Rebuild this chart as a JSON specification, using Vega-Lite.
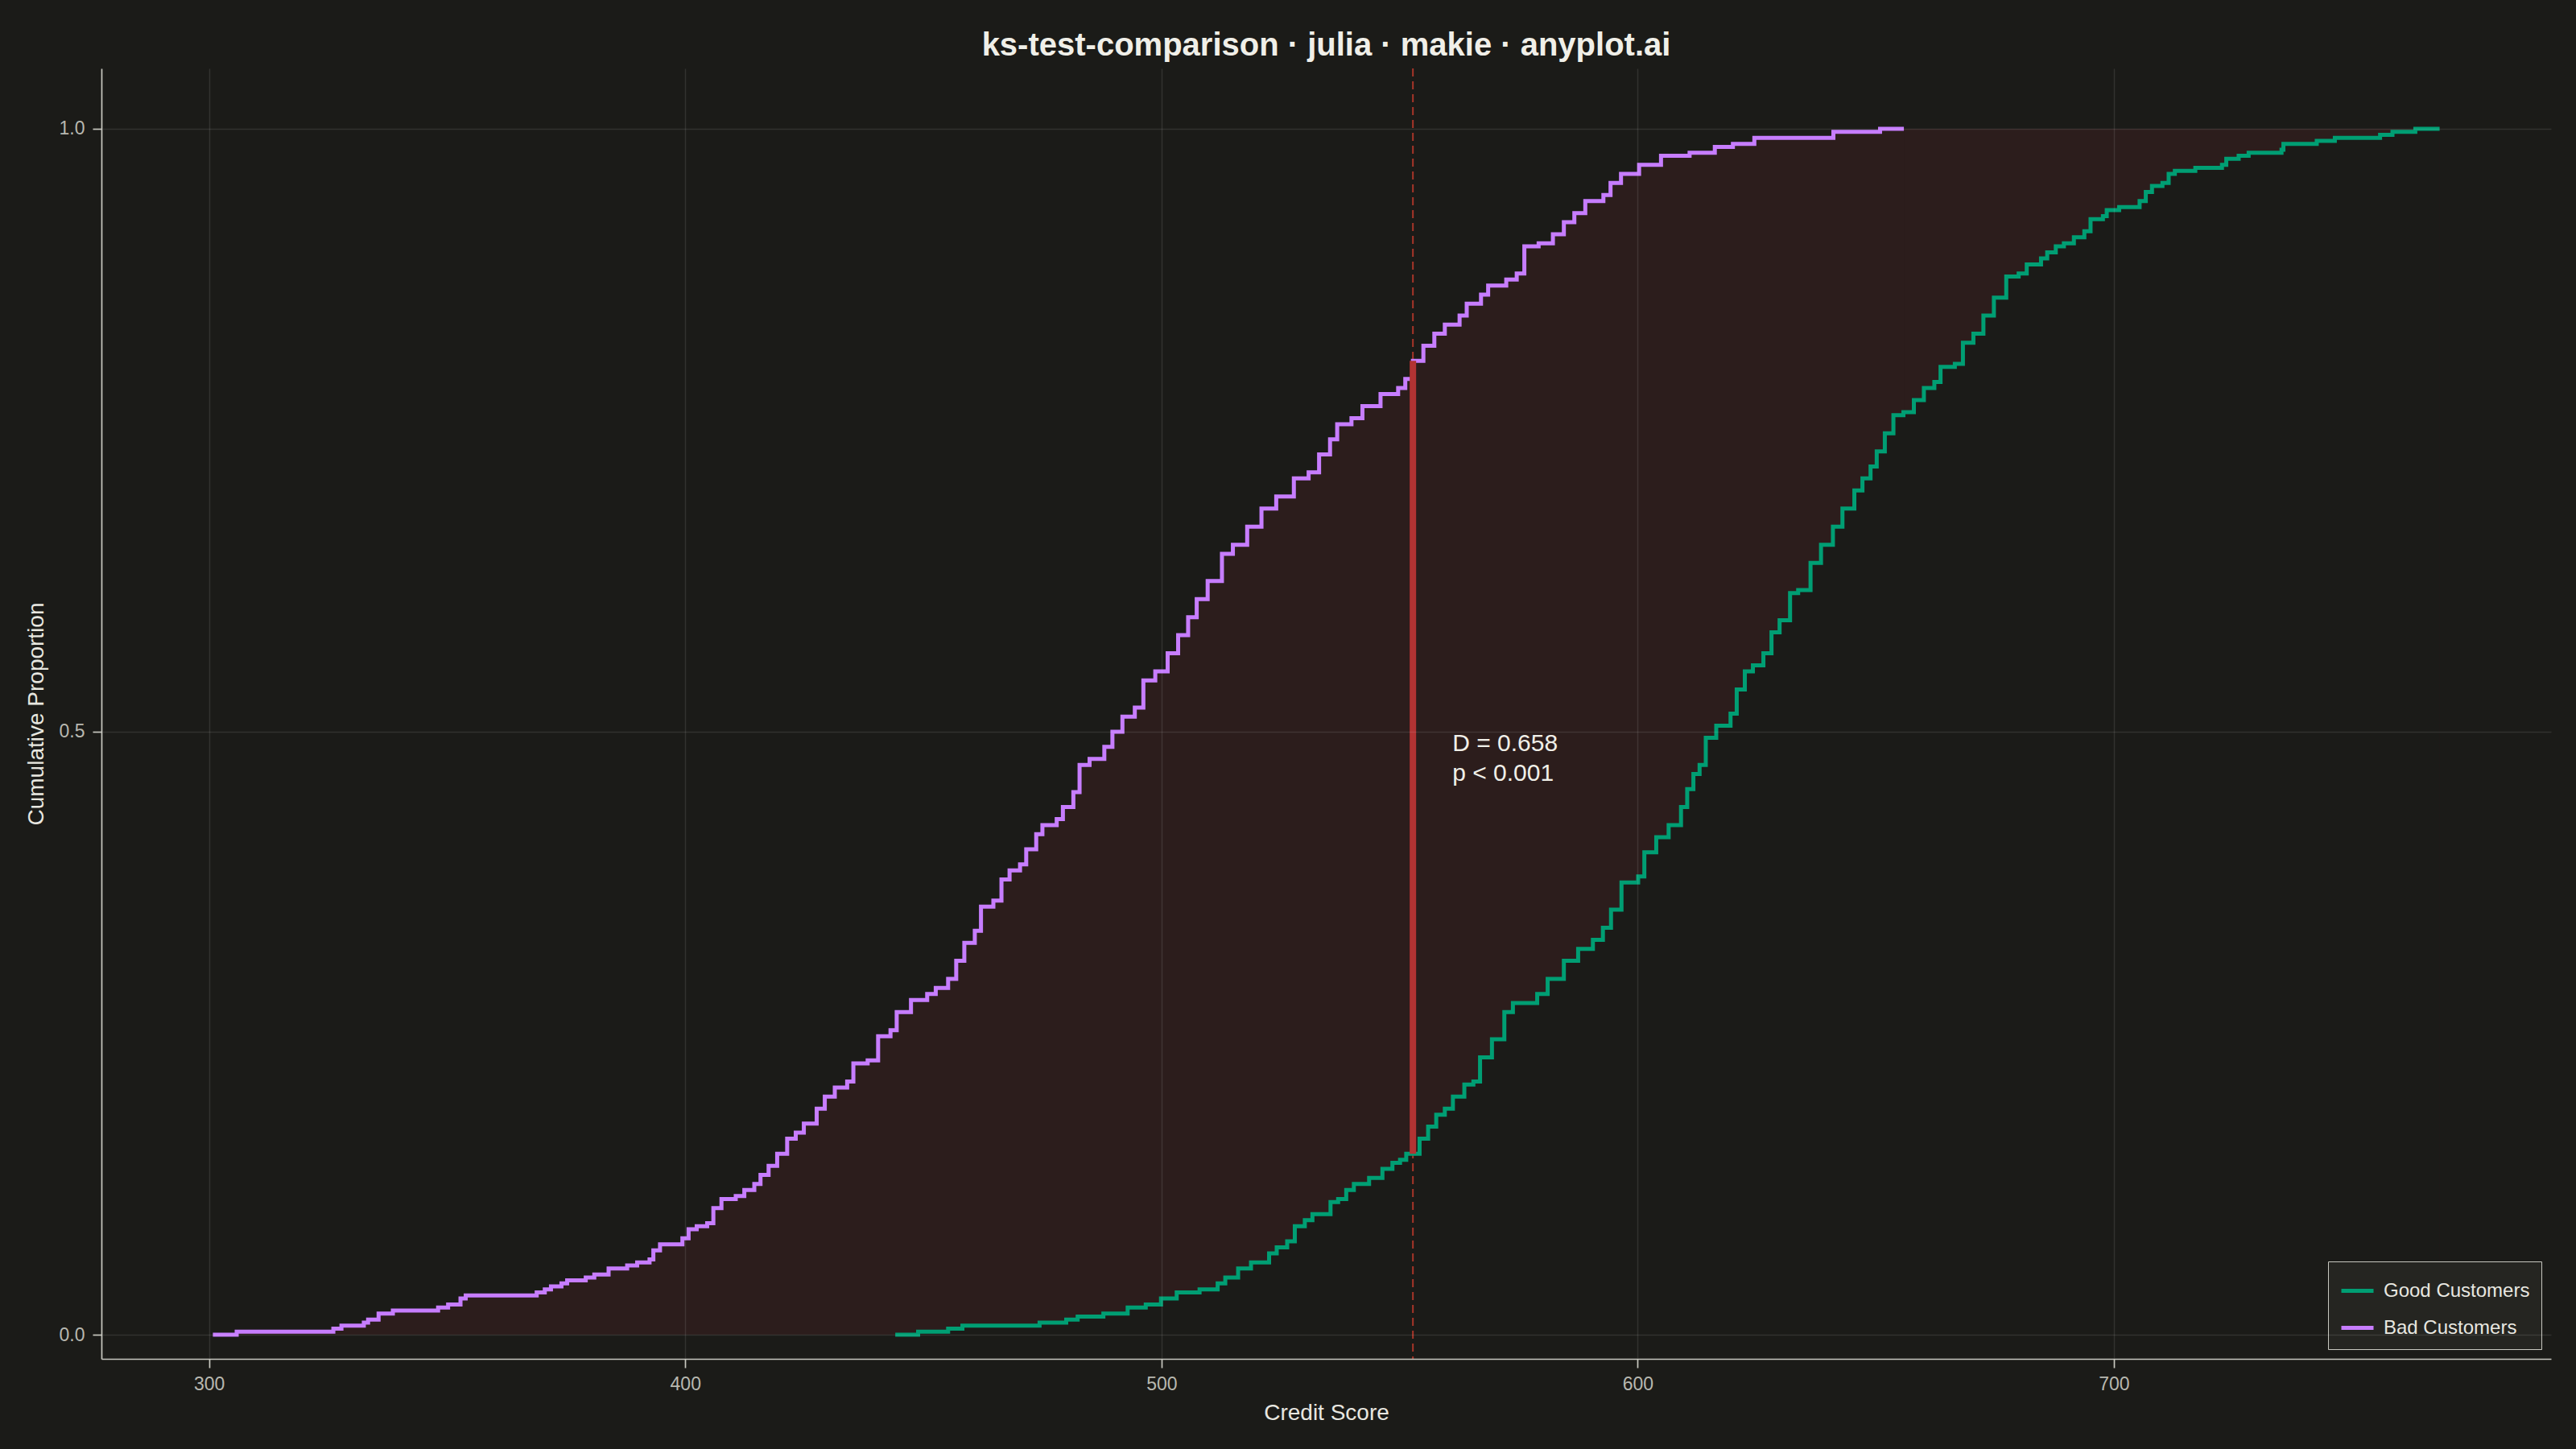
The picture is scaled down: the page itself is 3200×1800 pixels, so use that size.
{
  "$schema": "https://vega.github.io/schema/vega-lite/v6.json",
  "autosize": {"type": "none"},
  "padding": {"left": 126, "top": 85, "right": 31, "bottom": 112},
  "width": 3043,
  "height": 1603,
  "background": "#1b1b18",
  "config": {
    "view": {"stroke": null, "fill": "#1b1b18"},
    "font": "Liberation Sans",
    "axis": {
      "domainColor": "#c8c8c0",
      "domainWidth": 1.7,
      "tickColor": "#c8c8c0",
      "tickWidth": 1.7,
      "tickSize": 11,
      "labelFont": "Liberation Sans",
      "labelFontSize": 23,
      "labelColor": "#b8b8b0",
      "titleFont": "Liberation Sans",
      "titleFontSize": 28,
      "titleFontWeight": "normal",
      "titleColor": "#e8e7e0",
      "gridColor": "#ffffff",
      "gridOpacity": 0.1,
      "gridWidth": 1.5
    },
    "axisX": {"labelPadding": 9, "titlePadding": 10},
    "axisY": {"labelPadding": 10, "titlePadding": 14}
  },
  "title": {
    "text": "ks-test-comparison · julia · makie · anyplot.ai",
    "font": "Liberation Sans",
    "fontSize": 40,
    "fontWeight": "bold",
    "color": "#f0efe8",
    "anchor": "middle",
    "offset": 7
  },
  "datasets": {
    "ecdf": [
      {"group": "Bad Customers", "score": 300.8, "p": 0},
      {"group": "Bad Customers", "score": 305.8, "p": 0.0025},
      {"group": "Bad Customers", "score": 326.1, "p": 0.005},
      {"group": "Bad Customers", "score": 327.8, "p": 0.0075},
      {"group": "Bad Customers", "score": 332.5, "p": 0.01},
      {"group": "Bad Customers", "score": 333.4, "p": 0.0125},
      {"group": "Bad Customers", "score": 335.6, "p": 0.0175},
      {"group": "Bad Customers", "score": 338.6, "p": 0.02},
      {"group": "Bad Customers", "score": 348.1, "p": 0.0225},
      {"group": "Bad Customers", "score": 350.2, "p": 0.025},
      {"group": "Bad Customers", "score": 352.8, "p": 0.03},
      {"group": "Bad Customers", "score": 353.9, "p": 0.0325},
      {"group": "Bad Customers", "score": 368.8, "p": 0.035},
      {"group": "Bad Customers", "score": 370.5, "p": 0.0375},
      {"group": "Bad Customers", "score": 371.8, "p": 0.04},
      {"group": "Bad Customers", "score": 374.0, "p": 0.0425},
      {"group": "Bad Customers", "score": 375.2, "p": 0.045},
      {"group": "Bad Customers", "score": 379.1, "p": 0.0475},
      {"group": "Bad Customers", "score": 380.9, "p": 0.05},
      {"group": "Bad Customers", "score": 383.9, "p": 0.055},
      {"group": "Bad Customers", "score": 387.8, "p": 0.0575},
      {"group": "Bad Customers", "score": 389.9, "p": 0.06},
      {"group": "Bad Customers", "score": 392.5, "p": 0.0625},
      {"group": "Bad Customers", "score": 393.3, "p": 0.07},
      {"group": "Bad Customers", "score": 394.7, "p": 0.075},
      {"group": "Bad Customers", "score": 399.4, "p": 0.08},
      {"group": "Bad Customers", "score": 400.7, "p": 0.0875},
      {"group": "Bad Customers", "score": 402.4, "p": 0.09},
      {"group": "Bad Customers", "score": 404.6, "p": 0.0925},
      {"group": "Bad Customers", "score": 405.9, "p": 0.105},
      {"group": "Bad Customers", "score": 407.6, "p": 0.1125},
      {"group": "Bad Customers", "score": 410.6, "p": 0.115},
      {"group": "Bad Customers", "score": 412.4, "p": 0.12},
      {"group": "Bad Customers", "score": 414.5, "p": 0.125},
      {"group": "Bad Customers", "score": 415.8, "p": 0.1325},
      {"group": "Bad Customers", "score": 417.5, "p": 0.14},
      {"group": "Bad Customers", "score": 419.3, "p": 0.15},
      {"group": "Bad Customers", "score": 421.4, "p": 0.1625},
      {"group": "Bad Customers", "score": 423.2, "p": 0.1675},
      {"group": "Bad Customers", "score": 424.9, "p": 0.175},
      {"group": "Bad Customers", "score": 427.6, "p": 0.1875},
      {"group": "Bad Customers", "score": 429.3, "p": 0.1975},
      {"group": "Bad Customers", "score": 431.4, "p": 0.205},
      {"group": "Bad Customers", "score": 434.0, "p": 0.21},
      {"group": "Bad Customers", "score": 435.3, "p": 0.225},
      {"group": "Bad Customers", "score": 438.3, "p": 0.2275},
      {"group": "Bad Customers", "score": 440.5, "p": 0.2475},
      {"group": "Bad Customers", "score": 443.1, "p": 0.2525},
      {"group": "Bad Customers", "score": 444.4, "p": 0.2675},
      {"group": "Bad Customers", "score": 447.4, "p": 0.2775},
      {"group": "Bad Customers", "score": 450.8, "p": 0.2825},
      {"group": "Bad Customers", "score": 452.6, "p": 0.2875},
      {"group": "Bad Customers", "score": 455.2, "p": 0.295},
      {"group": "Bad Customers", "score": 456.9, "p": 0.31},
      {"group": "Bad Customers", "score": 458.6, "p": 0.325},
      {"group": "Bad Customers", "score": 460.8, "p": 0.335},
      {"group": "Bad Customers", "score": 462.1, "p": 0.355},
      {"group": "Bad Customers", "score": 464.7, "p": 0.36},
      {"group": "Bad Customers", "score": 466.4, "p": 0.3775},
      {"group": "Bad Customers", "score": 468.1, "p": 0.385},
      {"group": "Bad Customers", "score": 470.3, "p": 0.39},
      {"group": "Bad Customers", "score": 471.6, "p": 0.4025},
      {"group": "Bad Customers", "score": 473.7, "p": 0.415},
      {"group": "Bad Customers", "score": 475.0, "p": 0.4225},
      {"group": "Bad Customers", "score": 478.0, "p": 0.4275},
      {"group": "Bad Customers", "score": 479.3, "p": 0.4375},
      {"group": "Bad Customers", "score": 481.5, "p": 0.45},
      {"group": "Bad Customers", "score": 482.8, "p": 0.4725},
      {"group": "Bad Customers", "score": 484.9, "p": 0.4775},
      {"group": "Bad Customers", "score": 488.0, "p": 0.4875},
      {"group": "Bad Customers", "score": 489.7, "p": 0.5},
      {"group": "Bad Customers", "score": 491.8, "p": 0.5125},
      {"group": "Bad Customers", "score": 494.4, "p": 0.52},
      {"group": "Bad Customers", "score": 496.2, "p": 0.5425},
      {"group": "Bad Customers", "score": 498.7, "p": 0.55},
      {"group": "Bad Customers", "score": 501.3, "p": 0.565},
      {"group": "Bad Customers", "score": 503.5, "p": 0.58},
      {"group": "Bad Customers", "score": 505.6, "p": 0.595},
      {"group": "Bad Customers", "score": 507.4, "p": 0.61},
      {"group": "Bad Customers", "score": 509.7, "p": 0.625},
      {"group": "Bad Customers", "score": 512.7, "p": 0.6475},
      {"group": "Bad Customers", "score": 515.0, "p": 0.655},
      {"group": "Bad Customers", "score": 518.0, "p": 0.67},
      {"group": "Bad Customers", "score": 521.0, "p": 0.685},
      {"group": "Bad Customers", "score": 524.1, "p": 0.695},
      {"group": "Bad Customers", "score": 527.8, "p": 0.71},
      {"group": "Bad Customers", "score": 530.9, "p": 0.715},
      {"group": "Bad Customers", "score": 533.1, "p": 0.73},
      {"group": "Bad Customers", "score": 535.4, "p": 0.7425},
      {"group": "Bad Customers", "score": 536.9, "p": 0.755},
      {"group": "Bad Customers", "score": 539.9, "p": 0.76},
      {"group": "Bad Customers", "score": 542.2, "p": 0.77},
      {"group": "Bad Customers", "score": 546.0, "p": 0.78},
      {"group": "Bad Customers", "score": 549.7, "p": 0.785},
      {"group": "Bad Customers", "score": 551.2, "p": 0.7925},
      {"group": "Bad Customers", "score": 552.8, "p": 0.8075},
      {"group": "Bad Customers", "score": 555.0, "p": 0.82},
      {"group": "Bad Customers", "score": 557.3, "p": 0.83},
      {"group": "Bad Customers", "score": 559.5, "p": 0.8375},
      {"group": "Bad Customers", "score": 562.6, "p": 0.845},
      {"group": "Bad Customers", "score": 564.1, "p": 0.855},
      {"group": "Bad Customers", "score": 567.1, "p": 0.8625},
      {"group": "Bad Customers", "score": 568.6, "p": 0.87},
      {"group": "Bad Customers", "score": 572.4, "p": 0.875},
      {"group": "Bad Customers", "score": 574.6, "p": 0.88},
      {"group": "Bad Customers", "score": 576.2, "p": 0.9025},
      {"group": "Bad Customers", "score": 579.2, "p": 0.905},
      {"group": "Bad Customers", "score": 582.2, "p": 0.9125},
      {"group": "Bad Customers", "score": 584.5, "p": 0.9225},
      {"group": "Bad Customers", "score": 586.7, "p": 0.93},
      {"group": "Bad Customers", "score": 589.0, "p": 0.94},
      {"group": "Bad Customers", "score": 592.8, "p": 0.945},
      {"group": "Bad Customers", "score": 594.3, "p": 0.955},
      {"group": "Bad Customers", "score": 596.5, "p": 0.9625},
      {"group": "Bad Customers", "score": 600.3, "p": 0.97},
      {"group": "Bad Customers", "score": 604.9, "p": 0.9775},
      {"group": "Bad Customers", "score": 610.9, "p": 0.98},
      {"group": "Bad Customers", "score": 616.2, "p": 0.985},
      {"group": "Bad Customers", "score": 620.0, "p": 0.9875},
      {"group": "Bad Customers", "score": 624.5, "p": 0.9925},
      {"group": "Bad Customers", "score": 641.1, "p": 0.9975},
      {"group": "Bad Customers", "score": 650.9, "p": 1.0},
      {"group": "Bad Customers", "score": 655.9, "p": 1.0},
      {"group": "Good Customers", "score": 444.1, "p": 0},
      {"group": "Good Customers", "score": 448.9, "p": 0.0025},
      {"group": "Good Customers", "score": 455.2, "p": 0.005},
      {"group": "Good Customers", "score": 458.2, "p": 0.0075},
      {"group": "Good Customers", "score": 474.4, "p": 0.01},
      {"group": "Good Customers", "score": 480.0, "p": 0.0125},
      {"group": "Good Customers", "score": 482.4, "p": 0.015},
      {"group": "Good Customers", "score": 487.8, "p": 0.0175},
      {"group": "Good Customers", "score": 492.9, "p": 0.0225},
      {"group": "Good Customers", "score": 496.7, "p": 0.025},
      {"group": "Good Customers", "score": 499.9, "p": 0.03},
      {"group": "Good Customers", "score": 503.2, "p": 0.035},
      {"group": "Good Customers", "score": 508.0, "p": 0.0375},
      {"group": "Good Customers", "score": 511.8, "p": 0.0425},
      {"group": "Good Customers", "score": 513.4, "p": 0.0475},
      {"group": "Good Customers", "score": 516.1, "p": 0.055},
      {"group": "Good Customers", "score": 518.8, "p": 0.06},
      {"group": "Good Customers", "score": 522.6, "p": 0.0675},
      {"group": "Good Customers", "score": 524.2, "p": 0.0725},
      {"group": "Good Customers", "score": 526.4, "p": 0.0775},
      {"group": "Good Customers", "score": 528.0, "p": 0.09},
      {"group": "Good Customers", "score": 530.1, "p": 0.095},
      {"group": "Good Customers", "score": 531.7, "p": 0.1},
      {"group": "Good Customers", "score": 535.5, "p": 0.11},
      {"group": "Good Customers", "score": 537.1, "p": 0.1125},
      {"group": "Good Customers", "score": 538.8, "p": 0.12},
      {"group": "Good Customers", "score": 540.4, "p": 0.125},
      {"group": "Good Customers", "score": 543.6, "p": 0.13},
      {"group": "Good Customers", "score": 546.4, "p": 0.1375},
      {"group": "Good Customers", "score": 548.5, "p": 0.1425},
      {"group": "Good Customers", "score": 550.1, "p": 0.145},
      {"group": "Good Customers", "score": 551.4, "p": 0.15},
      {"group": "Good Customers", "score": 554.2, "p": 0.1625},
      {"group": "Good Customers", "score": 556.0, "p": 0.1725},
      {"group": "Good Customers", "score": 557.7, "p": 0.1825},
      {"group": "Good Customers", "score": 559.5, "p": 0.1875},
      {"group": "Good Customers", "score": 561.2, "p": 0.1975},
      {"group": "Good Customers", "score": 563.6, "p": 0.2075},
      {"group": "Good Customers", "score": 565.5, "p": 0.21},
      {"group": "Good Customers", "score": 566.9, "p": 0.23},
      {"group": "Good Customers", "score": 569.4, "p": 0.245},
      {"group": "Good Customers", "score": 572.0, "p": 0.2675},
      {"group": "Good Customers", "score": 573.8, "p": 0.275},
      {"group": "Good Customers", "score": 578.9, "p": 0.2825},
      {"group": "Good Customers", "score": 581.1, "p": 0.295},
      {"group": "Good Customers", "score": 584.5, "p": 0.31},
      {"group": "Good Customers", "score": 587.5, "p": 0.32},
      {"group": "Good Customers", "score": 590.6, "p": 0.3275},
      {"group": "Good Customers", "score": 592.7, "p": 0.3375},
      {"group": "Good Customers", "score": 594.4, "p": 0.3525},
      {"group": "Good Customers", "score": 596.6, "p": 0.375},
      {"group": "Good Customers", "score": 600.1, "p": 0.38},
      {"group": "Good Customers", "score": 601.4, "p": 0.4},
      {"group": "Good Customers", "score": 603.9, "p": 0.4125},
      {"group": "Good Customers", "score": 606.5, "p": 0.4225},
      {"group": "Good Customers", "score": 609.1, "p": 0.4375},
      {"group": "Good Customers", "score": 610.4, "p": 0.4525},
      {"group": "Good Customers", "score": 611.7, "p": 0.465},
      {"group": "Good Customers", "score": 613.0, "p": 0.4725},
      {"group": "Good Customers", "score": 614.3, "p": 0.495},
      {"group": "Good Customers", "score": 616.5, "p": 0.505},
      {"group": "Good Customers", "score": 619.5, "p": 0.515},
      {"group": "Good Customers", "score": 620.8, "p": 0.535},
      {"group": "Good Customers", "score": 622.5, "p": 0.55},
      {"group": "Good Customers", "score": 624.2, "p": 0.555},
      {"group": "Good Customers", "score": 626.4, "p": 0.565},
      {"group": "Good Customers", "score": 628.1, "p": 0.5825},
      {"group": "Good Customers", "score": 629.8, "p": 0.5925},
      {"group": "Good Customers", "score": 632.0, "p": 0.615},
      {"group": "Good Customers", "score": 633.7, "p": 0.6175},
      {"group": "Good Customers", "score": 636.3, "p": 0.64},
      {"group": "Good Customers", "score": 638.5, "p": 0.655},
      {"group": "Good Customers", "score": 641.0, "p": 0.67},
      {"group": "Good Customers", "score": 643.0, "p": 0.685},
      {"group": "Good Customers", "score": 645.5, "p": 0.7},
      {"group": "Good Customers", "score": 647.2, "p": 0.71},
      {"group": "Good Customers", "score": 648.9, "p": 0.72},
      {"group": "Good Customers", "score": 650.2, "p": 0.7325},
      {"group": "Good Customers", "score": 651.9, "p": 0.7475},
      {"group": "Good Customers", "score": 653.7, "p": 0.7625},
      {"group": "Good Customers", "score": 655.8, "p": 0.765},
      {"group": "Good Customers", "score": 658.0, "p": 0.775},
      {"group": "Good Customers", "score": 660.1, "p": 0.785},
      {"group": "Good Customers", "score": 662.3, "p": 0.79},
      {"group": "Good Customers", "score": 663.6, "p": 0.8025},
      {"group": "Good Customers", "score": 666.6, "p": 0.805},
      {"group": "Good Customers", "score": 668.3, "p": 0.8225},
      {"group": "Good Customers", "score": 670.5, "p": 0.83},
      {"group": "Good Customers", "score": 672.6, "p": 0.845},
      {"group": "Good Customers", "score": 674.8, "p": 0.86},
      {"group": "Good Customers", "score": 677.4, "p": 0.8775},
      {"group": "Good Customers", "score": 680.0, "p": 0.88},
      {"group": "Good Customers", "score": 681.7, "p": 0.8875},
      {"group": "Good Customers", "score": 684.7, "p": 0.8925},
      {"group": "Good Customers", "score": 686.0, "p": 0.8975},
      {"group": "Good Customers", "score": 687.8, "p": 0.9025},
      {"group": "Good Customers", "score": 689.5, "p": 0.905},
      {"group": "Good Customers", "score": 691.6, "p": 0.91},
      {"group": "Good Customers", "score": 693.8, "p": 0.915},
      {"group": "Good Customers", "score": 695.1, "p": 0.925},
      {"group": "Good Customers", "score": 697.7, "p": 0.9275},
      {"group": "Good Customers", "score": 698.5, "p": 0.9325},
      {"group": "Good Customers", "score": 701.1, "p": 0.935},
      {"group": "Good Customers", "score": 705.4, "p": 0.94},
      {"group": "Good Customers", "score": 706.7, "p": 0.9475},
      {"group": "Good Customers", "score": 708.0, "p": 0.9525},
      {"group": "Good Customers", "score": 710.2, "p": 0.955},
      {"group": "Good Customers", "score": 711.5, "p": 0.9625},
      {"group": "Good Customers", "score": 712.8, "p": 0.965},
      {"group": "Good Customers", "score": 717.1, "p": 0.9675},
      {"group": "Good Customers", "score": 722.7, "p": 0.97},
      {"group": "Good Customers", "score": 723.6, "p": 0.975},
      {"group": "Good Customers", "score": 726.2, "p": 0.9775},
      {"group": "Good Customers", "score": 728.3, "p": 0.98},
      {"group": "Good Customers", "score": 735.2, "p": 0.9825},
      {"group": "Good Customers", "score": 735.6, "p": 0.9875},
      {"group": "Good Customers", "score": 742.6, "p": 0.99},
      {"group": "Good Customers", "score": 746.4, "p": 0.9925},
      {"group": "Good Customers", "score": 755.9, "p": 0.995},
      {"group": "Good Customers", "score": 758.5, "p": 0.9975},
      {"group": "Good Customers", "score": 763.3, "p": 1.0},
      {"group": "Good Customers", "score": 768.4, "p": 1.0}
    ],
    "tail": [{"score": 655.9, "end": 768.4}],
    "ks": [{"score": 552.8, "lower": 0.15, "upper": 0.8075, "label": ["D = 0.658", "p < 0.001"]}]
  },
  "layer": [
    {
      "data": {"name": "ecdf"},
      "transform": [{"filter": "datum.group === 'Bad Customers'"}],
      "mark": {"type": "area", "interpolate": "step-after", "color": "#2c1d1c"},
      "encoding": {
        "x": {"field": "score", "type": "quantitative", "title": "Credit Score",
              "scale": {"domain": [277.4, 791.8], "nice": false, "zero": false},
              "axis": {"values": [300, 400, 500, 600, 700], "format": "d", "zindex": 1}},
        "y": {"field": "p", "type": "quantitative", "title": "Cumulative Proportion",
              "scale": {"domain": [-0.02, 1.05], "nice": false, "zero": false},
              "axis": {"values": [0, 0.5, 1], "format": ".1f", "zindex": 1}},
        "y2": {"datum": 0}
      }
    },
    {
      "data": {"name": "tail"},
      "mark": {"type": "rect", "color": "#2c1d1c"},
      "encoding": {
        "x": {"field": "score", "type": "quantitative", "title": "Credit Score",
              "scale": {"domain": [277.4, 791.8], "nice": false, "zero": false}},
        "x2": {"field": "end"},
        "y": {"datum": 0, "type": "quantitative", "scale": {"domain": [-0.02, 1.05], "nice": false, "zero": false}},
        "y2": {"datum": 1}
      }
    },
    {
      "data": {"name": "ecdf"},
      "transform": [{"filter": "datum.group === 'Good Customers'"}],
      "mark": {"type": "area", "interpolate": "step-after", "color": "#1b1b18"},
      "encoding": {
        "x": {"field": "score", "type": "quantitative", "title": "Credit Score",
              "scale": {"domain": [277.4, 791.8], "nice": false, "zero": false}},
        "y": {"field": "p", "type": "quantitative", "title": "Cumulative Proportion",
              "scale": {"domain": [-0.02, 1.05], "nice": false, "zero": false}},
        "y2": {"datum": 0}
      }
    },
    {
      "data": {"name": "ks"},
      "mark": {"type": "rule", "color": "#c0392b", "strokeWidth": 2, "strokeDash": [10, 6], "opacity": 0.85},
      "encoding": {
        "x": {"field": "score", "type": "quantitative", "title": "Credit Score",
              "scale": {"domain": [277.4, 791.8], "nice": false, "zero": false}}
      }
    },
    {
      "data": {"name": "ecdf"},
      "mark": {"type": "line", "interpolate": "step-after", "strokeWidth": 5},
      "encoding": {
        "x": {"field": "score", "type": "quantitative", "title": "Credit Score",
              "scale": {"domain": [277.4, 791.8], "nice": false, "zero": false}},
        "y": {"field": "p", "type": "quantitative", "title": "Cumulative Proportion",
              "scale": {"domain": [-0.02, 1.05], "nice": false, "zero": false}},
        "color": {
          "field": "group", "type": "nominal",
          "scale": {"domain": ["Good Customers", "Bad Customers"], "range": ["#009e73", "#c77dff"]},
          "legend": {
            "title": null,
            "orient": "bottom-right",
            "offset": 12,
            "symbolType": "stroke",
            "symbolSize": 1600,
            "symbolStrokeWidth": 5,
            "labelFont": "Liberation Sans",
            "labelFontSize": 24,
            "labelLimit": 500,
            "labelColor": "#e8e7e0",
            "labelOffset": 10,
            "rowPadding": 11,
            "padding": 14,
            "fillColor": "#252521",
            "strokeColor": "#c8c8c0"
          }
        }
      }
    },
    {
      "data": {"name": "ks"},
      "mark": {"type": "rule", "color": "#b23333", "strokeWidth": 8},
      "encoding": {
        "x": {"field": "score", "type": "quantitative", "title": "Credit Score",
              "scale": {"domain": [277.4, 791.8], "nice": false, "zero": false}},
        "y": {"field": "lower", "type": "quantitative", "title": "Cumulative Proportion",
              "scale": {"domain": [-0.02, 1.05], "nice": false, "zero": false}},
        "y2": {"field": "upper"}
      }
    },
    {
      "data": {"name": "ks"},
      "mark": {"type": "text", "align": "left", "baseline": "top", "dx": 49, "fontSize": 30, "lineHeight": 37, "color": "#f0efe8", "font": "Liberation Sans"},
      "encoding": {
        "x": {"field": "score", "type": "quantitative", "title": "Credit Score",
              "scale": {"domain": [277.4, 791.8], "nice": false, "zero": false}},
        "y": {"datum": 0.5, "type": "quantitative", "scale": {"domain": [-0.02, 1.05], "nice": false, "zero": false}},
        "text": {"field": "label"}
      }
    }
  ]
}
